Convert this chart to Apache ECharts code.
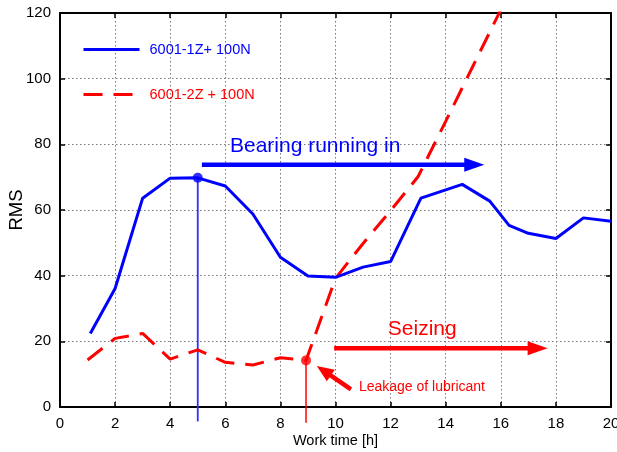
<!DOCTYPE html>
<html>
<head>
<meta charset="utf-8">
<script src="https://cdn.jsdelivr.net/npm/echarts@6/dist/echarts.min.js"></script>
<style>
html,body{margin:0;padding:0;background:#fff;}
#c{width:617px;height:452px;}
</style>
</head>
<body>
<div id="c"></div>
<script>
// ---- data ----
const seriesNames = ['6001-1Z+ 100N', '6001-2Z + 100N'];
const blueX = [1.1, 2, 3, 4, 5, 6, 7, 8, 9, 10, 11, 12, 13.1, 14.6, 15.6, 16.3, 17, 18, 19, 20];
const blueY = [22.4, 36.1, 63.6, 69.7, 69.8, 67.3, 58.8, 45.6, 39.9, 39.5, 42.6, 44.3, 63.6, 67.8, 62.7, 55.3, 52.9, 51.3, 57.6, 56.6];
const redX = [1, 2, 3, 4, 5, 6, 7, 8, 8.93, 10, 11, 12, 13, 14, 15, 16];
const redY = [14.3, 20.9, 22.4, 14.6, 17.4, 13.6, 12.8, 15.0, 14.2, 39.2, 49.8, 59.8, 70.2, 87, 104, 121];
const blueMarkX = [5, 5];
const blueMarkY = [69.8, -4.4];
const redMarkX = [8.93, 8.93];
const redMarkY = [14.2, -4.8];
const xTicks = [0, 2, 4, 6, 8, 10, 12, 14, 16, 18, 20];
const yTicks = [0, 20, 40, 60, 80, 100, 120];
const annoTexts = ['Bearing running in', 'Seizing', 'Leakage of lubricant'];

const BLUE = '#0000ff', RED = '#ff0000';
const FONT = 'Liberation Sans, Arial, sans-serif';
const zip = (a, b) => a.map((v, i) => [v, b[i]]);

const chart = echarts.init(document.getElementById('c'), null, {renderer: 'canvas'});

const axisCommon = {
  type: 'value',
  axisLine: {show: true, onZero: false, lineStyle: {color: '#000', width: 2}},
  axisTick: {show: true, inside: true, length: 5, lineStyle: {color: '#000', width: 1.5}},
};

const option = {
  animation: false,
  backgroundColor: '#fff',
  grid: {left: 60, top: 13, right: 6, bottom: 45, containLabel: false, outerBoundsMode: 'none'},
  legend: {
    data: [
      {name: seriesNames[0], textStyle: {color: BLUE}},
      {name: seriesNames[1], textStyle: {color: RED}}
    ],
    orient: 'vertical', left: 82, top: 42, itemWidth: 56, itemHeight: 14, itemGap: 30,
    padding: 0,
    itemStyle: {opacity: 0},
    lineStyle: {width: 3},
    textStyle: {fontSize: 14.5, fontFamily: FONT, padding: [0, 0, 0, 5]},
    selectedMode: false
  },
  xAxis: [
    Object.assign({}, axisCommon, {
      position: 'bottom', min: xTicks[0], max: xTicks[xTicks.length - 1], interval: 2,
      axisLabel: {fontSize: 15, color: '#000', margin: 9, fontFamily: FONT},
      splitLine: {show: true, lineStyle: {type: [1.5, 2.5], color: '#777', width: 1}},
      name: 'Work time [h]', nameLocation: 'middle', nameGap: 26, nameMoveOverlap: false,
      nameTextStyle: {fontSize: 14.5, color: '#000', fontFamily: FONT}
    }),
    Object.assign({}, axisCommon, {
      position: 'top', min: xTicks[0], max: xTicks[xTicks.length - 1], interval: 2,
      axisLabel: {show: false}, splitLine: {show: false}
    })
  ],
  yAxis: [
    Object.assign({}, axisCommon, {
      position: 'left', min: yTicks[0], max: yTicks[yTicks.length - 1], interval: 20,
      axisLabel: {fontSize: 15, color: '#000', margin: 9, fontFamily: FONT},
      splitLine: {show: true, lineStyle: {type: [1.5, 2.5], color: '#777', width: 1}},
      name: 'RMS', nameLocation: 'middle', nameGap: 34, nameRotate: 90, nameMoveOverlap: false,
      nameTextStyle: {fontSize: 18.5, color: '#000', fontFamily: FONT}
    }),
    Object.assign({}, axisCommon, {
      position: 'right', min: yTicks[0], max: yTicks[yTicks.length - 1], interval: 20,
      axisLabel: {show: false}, splitLine: {show: false}
    })
  ],
  series: [
    {
      name: seriesNames[0], type: 'line', data: zip(blueX, blueY),
      showSymbol: false, symbol: 'none',
      lineStyle: {color: BLUE, width: 3}, itemStyle: {color: BLUE}, z: 5
    },
    {
      name: seriesNames[1], type: 'line', data: zip(redX, redY),
      showSymbol: false, symbol: 'none', clip: true,
      lineStyle: {color: RED, width: 3, type: [19, 11]}, itemStyle: {color: RED}, z: 4
    },
    {
      name: 'blueMark', type: 'line', data: zip(blueMarkX, blueMarkY), clip: false,
      symbol: 'none', lineStyle: {color: '#3030ff', width: 1.8}, z: 3
    },
    {
      name: 'redMark', type: 'line', data: zip(redMarkX, redMarkY), clip: false,
      symbol: 'none', lineStyle: {color: RED, width: 1.5}, z: 3
    },
    {
      name: 'blueDot', type: 'scatter', data: [[blueMarkX[0], blueMarkY[0]]],
      symbolSize: 10, itemStyle: {color: BLUE}, z: 6
    },
    {
      name: 'redDot', type: 'scatter', data: [[redMarkX[0], redMarkY[0]]],
      symbolSize: 10, itemStyle: {color: RED}, z: 6
    }
  ]
};
chart.setOption(option);

// ---- annotations (arrows & texts) in data coordinates ----
const arrows = [
  {from: [5.15, 73.8], to: [15.4, 73.8], color: BLUE, w: 4.5, head: 20, hw: 7},
  {from: [9.95, 17.9], to: [17.7, 17.9], color: RED, w: 4.5, head: 20, hw: 7},
  {from: [10.56, 5.4], to: [9.32, 12.5], color: RED, w: 4.5, head: 17, hw: 7}
];
const texts = [
  {text: annoTexts[0], at: [6.17, 79.5], color: BLUE, size: 21},
  {text: annoTexts[1], at: [11.9, 23.8], color: RED, size: 21},
  {text: annoTexts[2], at: [10.85, 5.9], color: RED, size: 14}
];
const px = p => chart.convertToPixel({xAxisIndex: 0, yAxisIndex: 0}, p);
const graphics = [];
arrows.forEach(a => {
  const p0 = px(a.from), p1 = px(a.to);
  const dx = p1[0] - p0[0], dy = p1[1] - p0[1];
  const L = Math.hypot(dx, dy), ux = dx / L, uy = dy / L;
  const bx = p1[0] - ux * a.head, by = p1[1] - uy * a.head;
  graphics.push({
    type: 'line', shape: {x1: p0[0], y1: p0[1], x2: bx + ux * 2, y2: by + uy * 2},
    style: {stroke: a.color, lineWidth: a.w}, z: 10
  });
  graphics.push({
    type: 'polygon',
    shape: {points: [[p1[0], p1[1]], [bx - uy * a.hw, by + ux * a.hw], [bx + uy * a.hw, by - ux * a.hw]]},
    style: {fill: a.color}, z: 10
  });
});
texts.forEach(t => {
  const p = px(t.at);
  graphics.push({
    type: 'text', x: p[0], y: p[1],
    style: {text: t.text, fill: t.color, fontSize: t.size, fontFamily: FONT, align: 'left', verticalAlign: 'middle'},
    z: 10
  });
});
chart.setOption({graphic: graphics});
</script>
</body>
</html>
